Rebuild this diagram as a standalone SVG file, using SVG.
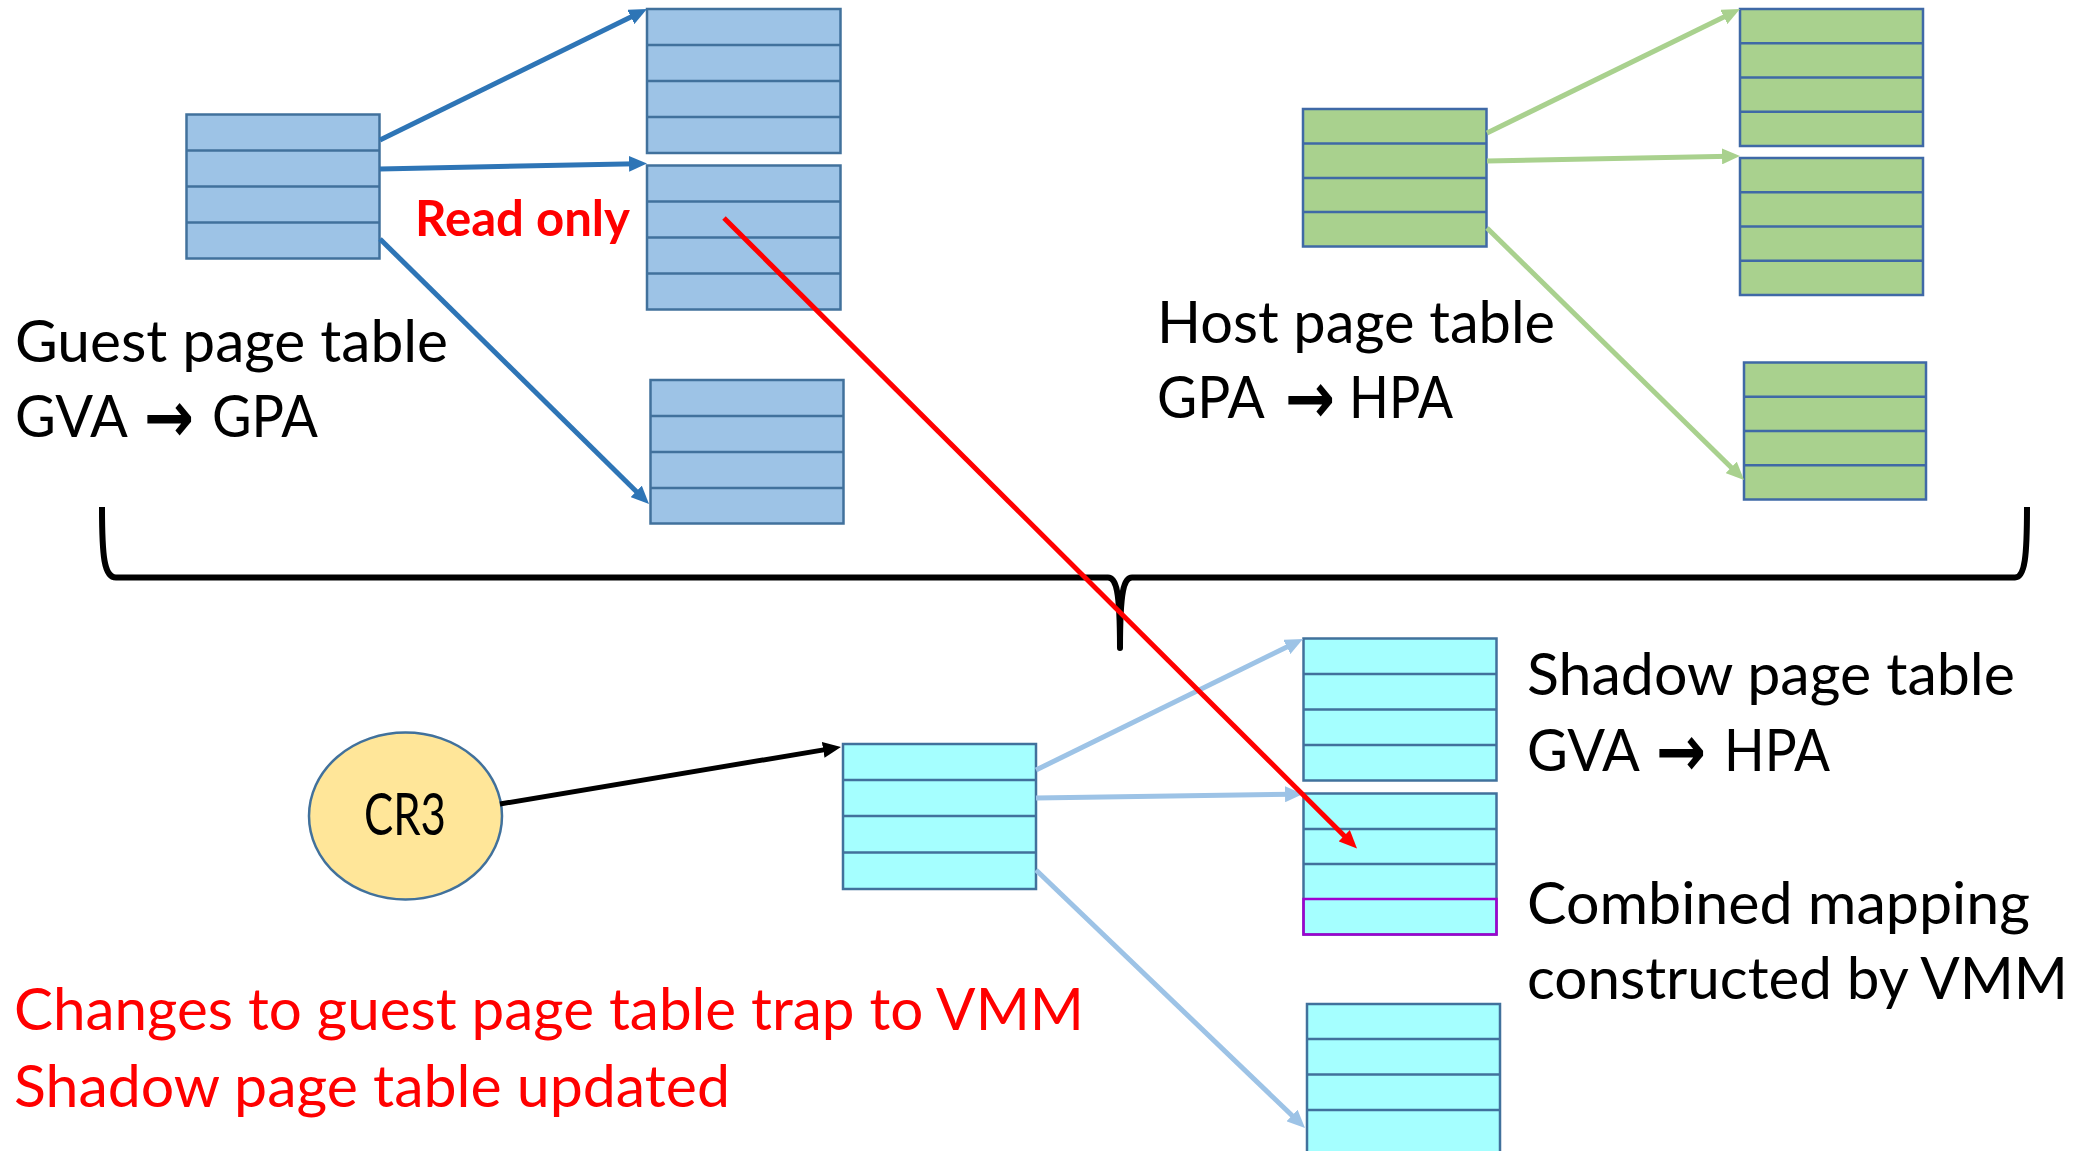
<svg xmlns="http://www.w3.org/2000/svg" width="2095" height="1151" viewBox="0 0 2095 1151">
  <style>
    .tbl rect, .tbl path { stroke: #41719C; stroke-width: 2.5; }
    .tbl path { fill: none; }
    .blue rect { fill: #9DC3E6; }
    .green rect { fill: #A9D18E; }
    .green rect, .green path { stroke: #3F69A6; }
    .cyan rect { fill: #A5FFFF; }
    .cyan rect.hl { fill: none; stroke: #A000D0; }
    .conn line { fill: none; stroke-width: 5; }
    .c-blue { stroke: #2E75B6; }
    .c-green { stroke: #A9D18E; }
    .c-light { stroke: #9DC3E6; }
    .c-black { stroke: #000000; }
    .c-red { stroke: #FF0000; }
    .lbl { font-family: Lato, "Open Sans", "DejaVu Sans", sans-serif; font-size: 58px; fill: #000000; }
    .lbl.red { fill: #FF0000; }
    .arr { font-family: "DejaVu Sans", sans-serif; font-size: 72px; font-weight: bold; }
    .ro { font-family: Lato, "Open Sans", "DejaVu Sans", sans-serif; font-weight: bold; font-size: 49px; fill: #FF0000; }
  </style>
  <defs>
    <marker id="ah-blue" viewBox="0 0 18 16" refX="8" refY="8" markerWidth="18" markerHeight="16" markerUnits="userSpaceOnUse" orient="auto">
      <path d="M0,0 L18,8 L0,16 z" fill="#2E75B6"/>
    </marker>
    <marker id="ah-green" viewBox="0 0 18 16" refX="8" refY="8" markerWidth="18" markerHeight="16" markerUnits="userSpaceOnUse" orient="auto">
      <path d="M0,0 L18,8 L0,16 z" fill="#A9D18E"/>
    </marker>
    <marker id="ah-light" viewBox="0 0 18 16" refX="8" refY="8" markerWidth="18" markerHeight="16" markerUnits="userSpaceOnUse" orient="auto">
      <path d="M0,0 L18,8 L0,16 z" fill="#9DC3E6"/>
    </marker>
    <marker id="ah-black" viewBox="0 0 18 16" refX="8" refY="8" markerWidth="18" markerHeight="16" markerUnits="userSpaceOnUse" orient="auto">
      <path d="M0,0 L18,8 L0,16 z" fill="#000000"/>
    </marker>
    <marker id="ah-red" viewBox="0 0 18 16" refX="8" refY="8" markerWidth="18" markerHeight="16" markerUnits="userSpaceOnUse" orient="auto">
      <path d="M0,0 L18,8 L0,16 z" fill="#FF0000"/>
    </marker>
  </defs>

  <rect x="0" y="0" width="2095" height="1151" fill="#FFFFFF"/>

  <!-- Guest page table (blue) -->
  <g id="guest-root" class="tbl blue">
    <rect x="186.5" y="114.5" width="193" height="144"/>
    <path d="M186.5,150.5 h193 M186.5,186.5 h193 M186.5,222.5 h193"/>
  </g>
  <g id="guest-leaf-1" class="tbl blue">
    <rect x="647" y="9" width="193.5" height="144"/>
    <path d="M647,45 h193.5 M647,81 h193.5 M647,117 h193.5"/>
  </g>
  <g id="guest-leaf-2" class="tbl blue">
    <rect x="647" y="165.5" width="193.5" height="144"/>
    <path d="M647,201.5 h193.5 M647,237.5 h193.5 M647,273.5 h193.5"/>
  </g>
  <g id="guest-leaf-3" class="tbl blue">
    <rect x="650.5" y="380" width="193" height="143.5"/>
    <path d="M650.5,416 h193 M650.5,452 h193 M650.5,488 h193"/>
  </g>

  <!-- Host page table (green) -->
  <g id="host-root" class="tbl green">
    <rect x="1303" y="109" width="183.5" height="137.5"/>
    <path d="M1303,143.5 h183.5 M1303,178 h183.5 M1303,212 h183.5"/>
  </g>
  <g id="host-leaf-1" class="tbl green">
    <rect x="1740" y="9" width="183" height="137"/>
    <path d="M1740,43.3 h183 M1740,77.5 h183 M1740,111.8 h183"/>
  </g>
  <g id="host-leaf-2" class="tbl green">
    <rect x="1740" y="158" width="183" height="137"/>
    <path d="M1740,192.3 h183 M1740,226.5 h183 M1740,260.8 h183"/>
  </g>
  <g id="host-leaf-3" class="tbl green">
    <rect x="1744" y="362.5" width="182" height="137"/>
    <path d="M1744,396.8 h182 M1744,431 h182 M1744,465.3 h182"/>
  </g>

  <!-- Shadow page table (cyan) -->
  <g id="shadow-root" class="tbl cyan">
    <rect x="843" y="744" width="193" height="145"/>
    <path d="M843,780 h193 M843,816 h193 M843,852.5 h193"/>
  </g>
  <g id="shadow-leaf-1" class="tbl cyan">
    <rect x="1303.5" y="638.5" width="193" height="142"/>
    <path d="M1303.5,674 h193 M1303.5,709.5 h193 M1303.5,745 h193"/>
  </g>
  <g id="shadow-leaf-2" class="tbl cyan">
    <rect x="1303.5" y="793.5" width="193" height="141"/>
    <path d="M1303.5,829 h193 M1303.5,864 h193"/>
    <rect class="hl" x="1303.5" y="899" width="193" height="35.5"/>
  </g>
  <g id="shadow-leaf-3" class="tbl cyan">
    <rect x="1307" y="1004" width="193" height="160"/>
    <path d="M1307,1039 h193 M1307,1074.5 h193 M1307,1110 h193"/>
  </g>

  <!-- CR3 register -->
  <g id="cr3">
    <ellipse cx="405.5" cy="816" rx="96.5" ry="83.5" fill="#FFE699" stroke="#41719C" stroke-width="2.5"/>
    <text class="lbl" x="364" y="835" font-size="48" textLength="82" lengthAdjust="spacingAndGlyphs">CR3</text>
  </g>

  <!-- Brace grouping the two tables -->
  <g id="brace">
    <path d="M102,507 C102,556 104,577.5 116,577.5 L1108,577.5 C1116,577.5 1120,590 1120,648 C1120,590 1124,577.5 1132,577.5 L2015,577.5 C2025,577.5 2027,556 2027,507" fill="none" stroke="#000000" stroke-width="6" stroke-linejoin="round"/>
  </g>

  <!-- Labels -->
  <g id="guest-label">
    <text class="lbl" x="15" y="362" textLength="433" lengthAdjust="spacingAndGlyphs">Guest page table</text>
    <text class="lbl" y="437"><tspan x="15" textLength="111" lengthAdjust="spacingAndGlyphs">GVA</tspan> <tspan class="arr" x="144" dy="5" textLength="50" lengthAdjust="spacingAndGlyphs">→</tspan> <tspan x="212" dy="-5" textLength="106" lengthAdjust="spacingAndGlyphs">GPA</tspan></text>
  </g>
  <g id="host-label">
    <text class="lbl" x="1157" y="343" textLength="398" lengthAdjust="spacingAndGlyphs">Host page table</text>
    <text class="lbl" y="418"><tspan x="1157" textLength="106" lengthAdjust="spacingAndGlyphs">GPA</tspan> <tspan class="arr" x="1285" dy="5" textLength="50" lengthAdjust="spacingAndGlyphs">→</tspan> <tspan x="1349" dy="-5" textLength="104" lengthAdjust="spacingAndGlyphs">HPA</tspan></text>
  </g>
  <g id="shadow-label">
    <text class="lbl" x="1527" y="695" textLength="488" lengthAdjust="spacingAndGlyphs">Shadow page table</text>
    <text class="lbl" y="771"><tspan x="1527" textLength="111" lengthAdjust="spacingAndGlyphs">GVA</tspan> <tspan class="arr" x="1656" dy="5" textLength="50" lengthAdjust="spacingAndGlyphs">→</tspan> <tspan x="1724" dy="-5" textLength="106" lengthAdjust="spacingAndGlyphs">HPA</tspan></text>
  </g>
  <g id="combined-label">
    <text class="lbl" x="1527" y="924" textLength="503" lengthAdjust="spacingAndGlyphs">Combined mapping</text>
    <text class="lbl" x="1527" y="999" textLength="541" lengthAdjust="spacingAndGlyphs">constructed by VMM</text>
  </g>
  <g id="trap-note">
    <text class="lbl red" x="14" y="1030" textLength="1070" lengthAdjust="spacingAndGlyphs">Changes to guest page table trap to VMM</text>
    <text class="lbl red" x="14" y="1106.5" textLength="716" lengthAdjust="spacingAndGlyphs">Shadow page table updated</text>
  </g>
  <g id="read-only-label">
    <text class="ro" x="415" y="236" textLength="215" lengthAdjust="spacingAndGlyphs">Read only</text>
  </g>

  <!-- Connectors -->
  <g id="connectors" class="conn">
    <line class="c-blue" x1="380" y1="140" x2="638" y2="13.4" marker-end="url(#ah-blue)"/>
    <line class="c-blue" x1="380" y1="169" x2="637" y2="163.7" marker-end="url(#ah-blue)"/>
    <line class="c-blue" x1="380" y1="239" x2="641.9" y2="497" marker-end="url(#ah-blue)"/>

    <line class="c-green" x1="1487" y1="133" x2="1731" y2="13.4" marker-end="url(#ah-green)"/>
    <line class="c-green" x1="1487" y1="161" x2="1730" y2="156.2" marker-end="url(#ah-green)"/>
    <line class="c-green" x1="1487" y1="228" x2="1736.9" y2="473" marker-end="url(#ah-green)"/>

    <line class="c-black" x1="500" y1="804" x2="831.1" y2="748.6" marker-end="url(#ah-black)"/>

    <line class="c-light" x1="1036" y1="770" x2="1294" y2="643.4" marker-end="url(#ah-light)"/>
    <line class="c-light" x1="1036" y1="798" x2="1293" y2="794.15" marker-end="url(#ah-light)"/>
    <line class="c-light" x1="1036" y1="870" x2="1297.8" y2="1121" marker-end="url(#ah-light)"/>

    <line class="c-red" x1="724" y1="218" x2="1349.9" y2="841.4" marker-end="url(#ah-red)"/>
  </g>
</svg>
